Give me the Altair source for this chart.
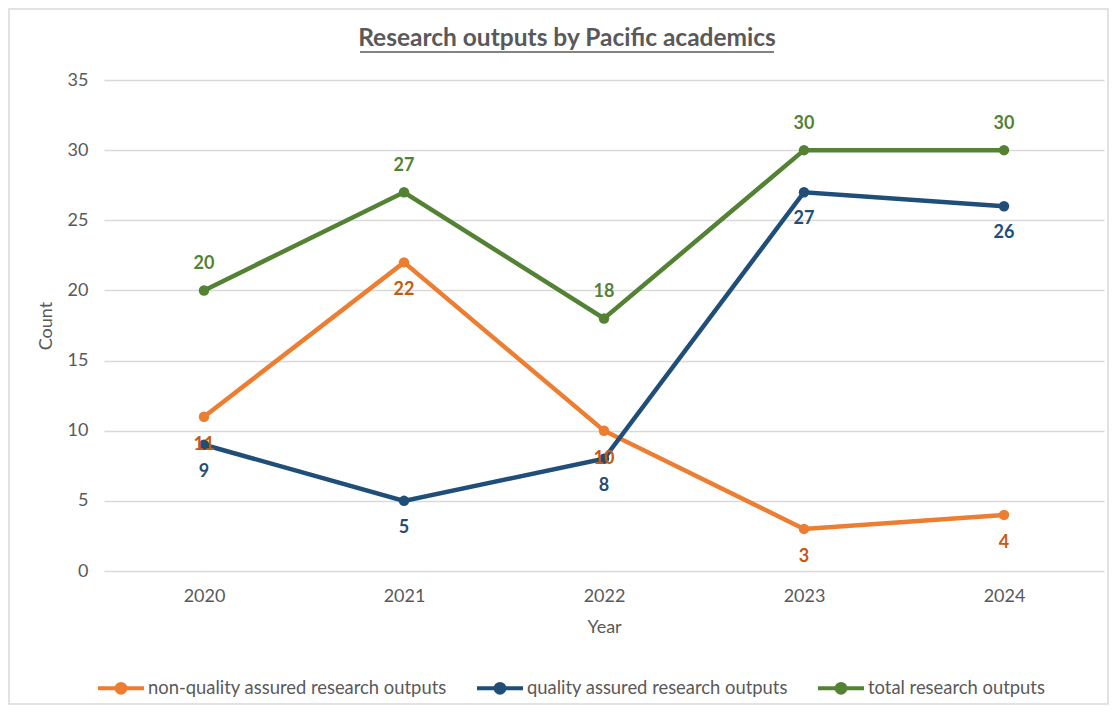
import altair as alt
import pandas as pd

years = ["2020", "2021", "2022", "2023", "2024"]
non_qa = [11, 22, 10, 3, 4]
qa = [9, 5, 8, 27, 26]
total = [20, 27, 18, 30, 30]
series_names = [
    "non-quality assured research outputs",
    "quality assured research outputs",
    "total research outputs",
]
line_colors = ["#ED7D31", "#1F4E79", "#548235"]
label_colors = ["#C55A11", "#1F4E79", "#548235"]
label_dy = [28, 27, -26]

rows = []
for name, vals in zip(series_names, [non_qa, qa, total]):
    for y, v in zip(years, vals):
        rows.append({"Year": y, "Count": v, "Series": name})
df = pd.DataFrame(rows)

FONT = "Lato"
GREY = "#595959"
W, H = 1000, 491

base = alt.Chart(df)

color = alt.Color(
    "Series:N",
    scale=alt.Scale(domain=series_names, range=line_colors),
    sort=series_names,
    legend=alt.Legend(
        title=None,
        orient="none",
        legendX=-8,
        legendY=583,
        direction="horizontal",
        symbolType="M-1,0L-0.2,0M0.2,0L1,0M-0.19,0A0.19,0.19 0 1,1 0.19,0A0.19,0.19 0 1,1 -0.19,0",
        symbolSize=2116,
        symbolStrokeWidth=4,
        labelFont=FONT,
        labelFontSize=18.4,
        labelColor=GREY,
        labelOffset=2,
        columnPadding=22,
        labelLimit=500,
    ),
)

lines = base.mark_line(strokeWidth=4.5, point=alt.OverlayMarkDef(size=110, filled=True, opacity=1)).encode(
    x=alt.X(
        "Year:O",
        sort=years,
        title="Year",
        axis=alt.Axis(
            labelAngle=0, ticks=False, domain=False, labelPadding=16,
            labelFont=FONT, labelFontSize=18, labelColor=GREY,
            titleFont=FONT, titleFontSize=18, titleColor=GREY, titleFontWeight="normal",
            titlePadding=13,
        ),
    ),
    y=alt.Y(
        "Count:Q",
        scale=alt.Scale(domain=[0, 35]),
        title="Count",
        axis=alt.Axis(
            values=[0, 5, 10, 15, 20, 25, 30, 35], ticks=False, domain=False,
            labelPadding=16, gridColor="#D9D9D9", gridWidth=1.3,
            labelFont=FONT, labelFontSize=18, labelColor=GREY,
            titleFont=FONT, titleFontSize=18, titleColor=GREY, titleFontWeight="normal",
            titlePadding=12,
        ),
    ),
    color=color,
)

labels = []
for name, lc, dy in zip(series_names, label_colors, label_dy):
    labels.append(
        base.transform_filter(alt.datum.Series == name)
        .mark_text(font=FONT, fontSize=18, fontWeight="bold", color=lc, dy=dy)
        .encode(x=alt.X("Year:O", sort=years), y="Count:Q", text="Count:Q")
    )

one = alt.Data(values=[{}])
title = alt.Chart(one).mark_text(
    text="Research outputs by Pacific academics", font=FONT, fontSize=24.5,
    fontWeight="bold", color=GREY, baseline="alphabetic", align="center",
).encode(x=alt.value(463), y=alt.value(-34))
underline = alt.Chart(one).mark_rule(color=GREY, strokeWidth=1.5).encode(
    x=alt.value(256), x2=alt.value(670), y=alt.value(-28)
)
border = alt.Chart(one).mark_rect(fill=None, stroke="#D9D9D9", strokeWidth=1.5).encode(
    x=alt.value(-95), x2=alt.value(1004), y=alt.value(-71), y2=alt.value(624)
)

chart = alt.layer(border, lines, *labels, title, underline).properties(
    width=W, height=H,
    autosize=alt.AutoSizeParams(type="none"),
    padding={"left": 96, "top": 72, "right": 5, "bottom": 134},
).configure_view(stroke=None)

chart.save("out.html", embed_options={"renderer": "svg", "actions": False})
